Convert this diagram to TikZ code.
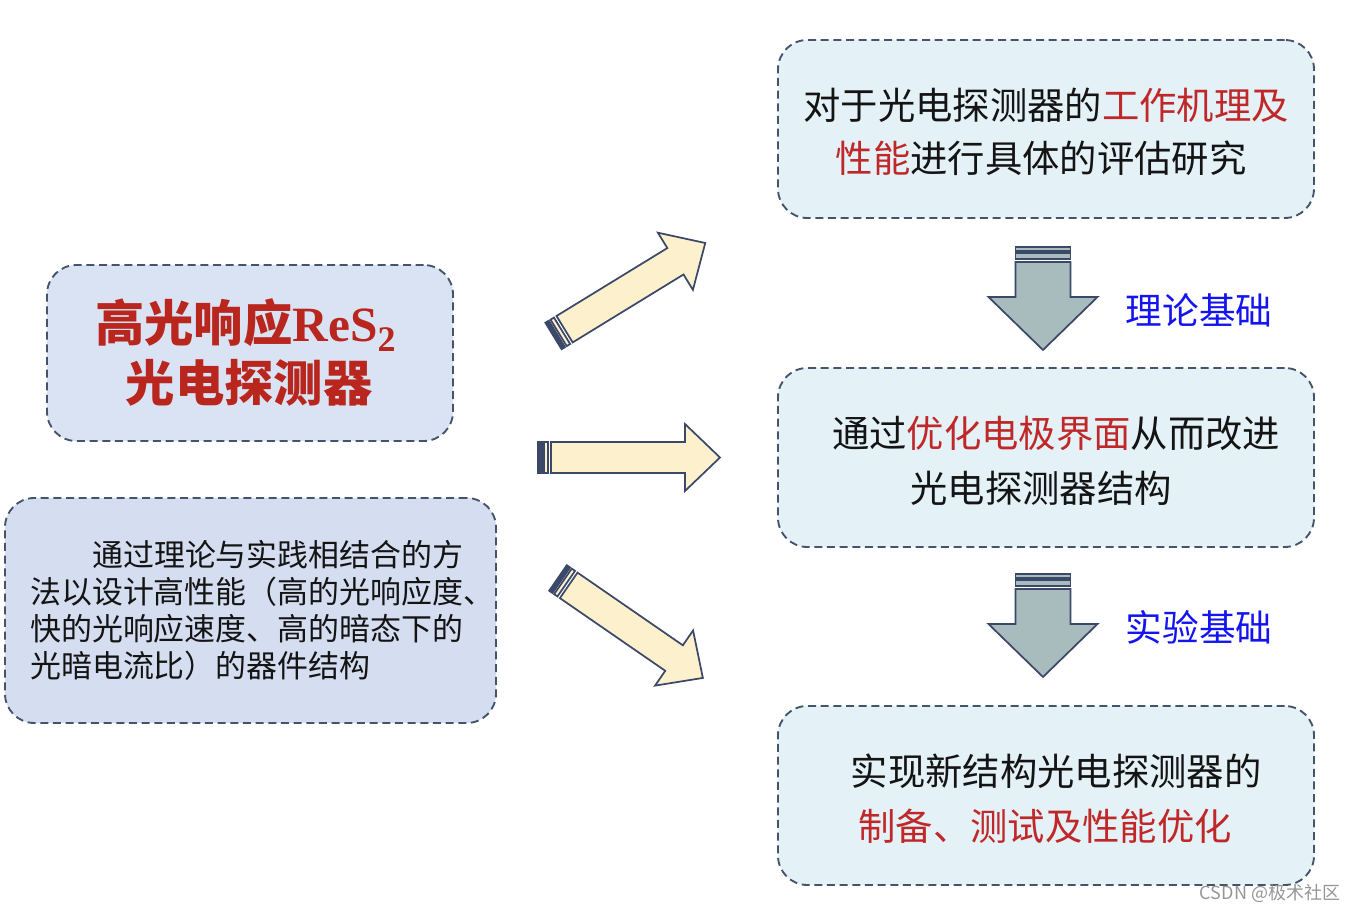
\documentclass[tikz,border=0pt]{standalone}
\usepackage{fontspec}
\newfontfamily\cjk{Noto Sans CJK SC}
\newfontfamily\resf{Liberation Serif}
\definecolor{boxline}{RGB}{68,84,106}
\definecolor{lfillA}{RGB}{218,227,243}
\definecolor{lfillB}{RGB}{212,222,240}
\definecolor{rfill}{RGB}{228,241,246}
\definecolor{hired}{RGB}{192,39,40}
\definecolor{titred}{RGB}{184,38,30}
\definecolor{lblue}{RGB}{20,20,240}
\definecolor{arrline}{RGB}{60,72,104}
\definecolor{yfill}{RGB}{252,240,205}
\definecolor{gfill}{RGB}{168,188,190}
\definecolor{txt}{RGB}{20,20,20}
\tikzset{
  dbox/.style={draw=boxline, line width=1.4pt, dash pattern=on 6pt off 3.5pt, rounded corners=22pt, inner sep=0pt},
  arrline/.style={draw=arrline, line width=1.3pt, line join=miter},
  tx/.style={inner sep=0pt, text=txt},
}
% tail x, tail y, angle, length
\newcommand{\yarrow}[4]{%
  \begin{scope}[shift={(#1,#2)},rotate=#3]
    \draw[arrline, fill=arrline] (0,-15.5) rectangle (4,15.5);
    \draw[arrline, fill=yfill] (6,-15.5) rectangle (10,15.5);
    \draw[arrline, fill=yfill] (13,-15.5) -- ({#4-35},-15.5) -- ({#4-35},-33.5) -- (#4,0)
      -- ({#4-35},33.5) -- ({#4-35},15.5) -- (13,15.5) -- cycle;
  \end{scope}}
\newcommand{\garrow}[4]{%
  \begin{scope}[shift={(#1,#2)},rotate=#3]
    \draw[arrline, fill=gfill] (0,-27.5) rectangle (4,27.5);
    \draw[arrline, fill=gfill] (6,-27.5) rectangle (12,27.5);
    \draw[arrline, fill=gfill] (15,-27.5) -- ({#4-53},-27.5) -- ({#4-53},-54.5) -- (#4,0)
      -- ({#4-53},54.5) -- ({#4-53},27.5) -- (15,27.5) -- cycle;
  \end{scope}}
\begin{document}
\begin{tikzpicture}[x=0.75pt,y=-0.75pt,font=\cjk]
\useasboundingbox (0,0) rectangle (1354,912);

% boxes
\node[dbox, fill=lfillA, minimum width=304.5pt, minimum height=132pt] (title) at (250,353) {};
\node[dbox, fill=lfillB, minimum width=368.25pt, minimum height=168.75pt] (desc) at (250.5,610.5) {};
\node[dbox, fill=rfill, minimum width=402pt, minimum height=133.5pt] (r1) at (1046,129) {};
\node[dbox, fill=rfill, minimum width=402pt, minimum height=134.25pt] (r2) at (1046,457.5) {};
\node[dbox, fill=rfill, minimum width=402pt, minimum height=134.25pt] (r3) at (1046,795.5) {};

% title text
\node[inner sep=0pt, text=titred, anchor=west] (t1) at (95,325)
  {\fontsize{37}{40}\selectfont\bfseries 高光响应{\resf\bfseries ReS\raisebox{-0.22em}{\fontsize{27}{27}\selectfont 2}}};
\node[inner sep=0pt, text=titred] (t2) at (249,383)
  {\fontsize{37}{40}\selectfont\bfseries 光电探测器};

% description text
\node[tx, anchor=west] (d1) at (92,555) {\fontsize{23.2}{28}\selectfont 通过理论与实践相结合的方};
\node[tx, anchor=west] (d2) at (30,592) {\fontsize{23.2}{28}\selectfont 法以设计高性能（高的光响应度、};
\node[tx, anchor=west] (d3) at (30,629) {\fontsize{23.2}{28}\selectfont 快的光响应速度、高的暗态下的};
\node[tx, anchor=west] (d4) at (30,666) {\fontsize{23.2}{28}\selectfont 光暗电流比）的器件结构};

% right texts
\node[tx] (r1a) at (1046,105) {\fontsize{28}{32}\selectfont 对于光电探测器的\textcolor{hired}{工作机理及}};
\node[tx] (r1b) at (1041,158) {\fontsize{28}{32}\selectfont \textcolor{hired}{性能}进行具体的评估研究};
\node[tx] (r2a) at (1056,433) {\fontsize{28}{32}\selectfont 通过\textcolor{hired}{优化电极界面}从而改进};
\node[tx] (r2b) at (1041,488) {\fontsize{28}{32}\selectfont 光电探测器结构};
\node[tx] (r3a) at (1056,771) {\fontsize{28}{32}\selectfont 实现新结构光电探测器的};
\node[tx, text=hired] (r3b) at (1045,826) {\fontsize{28}{32}\selectfont 制备、测试及性能优化};

% blue labels
\node[inner sep=0pt, text=lblue] (l1) at (1199,310) {\fontsize{27.5}{32}\selectfont 理论基础};
\node[inner sep=0pt, text=lblue] (l2) at (1199,627) {\fontsize{27.5}{32}\selectfont 实验基础};

% block arrows
\yarrow{553.5}{336}{31.5}{178}
\yarrow{538}{457.5}{0}{182}
\yarrow{558}{578}{-34.6}{176}
\garrow{1043}{247}{-90}{103}
\garrow{1043}{574}{-90}{103}

% watermark
\node[inner sep=0pt, text={rgb,255:red,150;green,150;blue,150}] (wm) at (1270,893)
  {\fontsize{13.5}{15}\selectfont CSDN @极术社区};
\end{tikzpicture}
\end{document}
